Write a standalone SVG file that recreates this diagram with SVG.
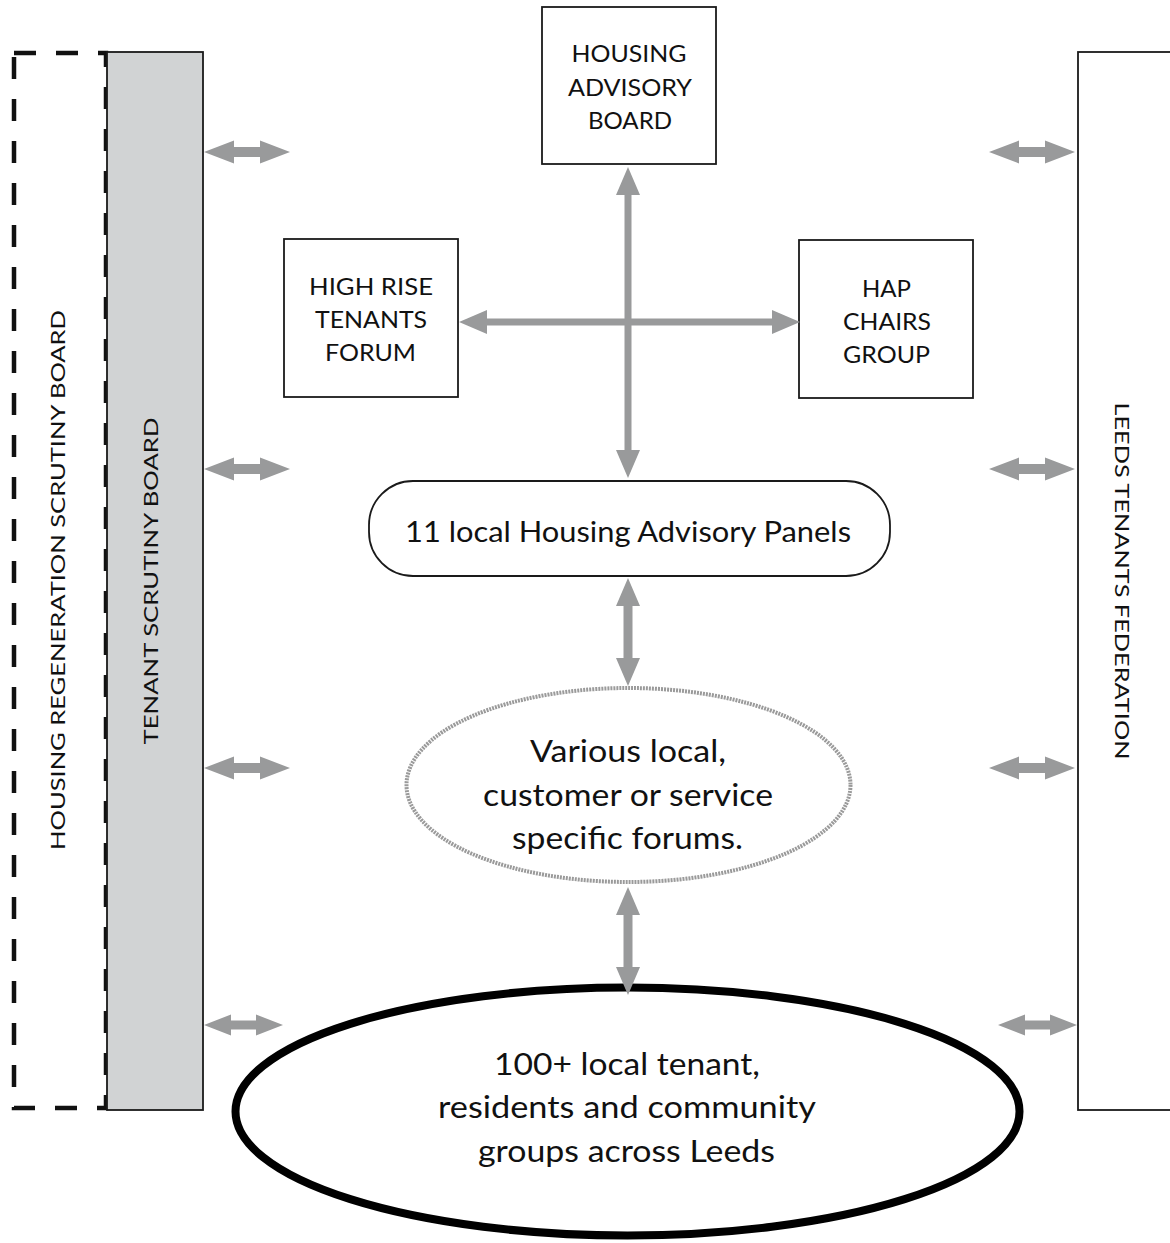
<svg xmlns="http://www.w3.org/2000/svg" width="1170" height="1243" viewBox="0 0 1170 1243">
<style>
.box{fill:#fff;stroke:#1a1a1a;stroke-width:1.8}
.t{font-family:Lato,"Open Sans","Liberation Sans",sans-serif;fill:#111;text-anchor:middle}
.cap{font-size:23px}
.vt{font-size:19px}
.big{font-size:30px}
.arr{fill:#999a9b}
</style>
<defs>
<path id="side" d="M0,0 L30,-11.5 L30,-5 L56,-5 L56,-11.5 L86,0 L56,11.5 L56,5 L30,5 L30,11.5 Z"/>
<path id="sideS" d="M0,0 L27,-10.5 L27,-4.5 L52,-4.5 L52,-10.5 L79,0 L52,10.5 L52,4.5 L27,4.5 L27,10.5 Z"/>
<path id="vshort" d="M0,0 L12,28 L4.5,28 L4.5,80 L12,80 L0,108 L-12,80 L-4.5,80 L-4.5,28 L-12,28 Z"/>
</defs>
<rect width="1170" height="1243" fill="#fff"/>

<g id="housing-regeneration-scrutiny-board">
<rect x="14" y="53" width="92" height="1055" fill="none" stroke="#111" stroke-width="4.5" stroke-dasharray="22 20"/>
<text class="t vt" transform="translate(65,580) rotate(-90)" textLength="540" lengthAdjust="spacingAndGlyphs">HOUSING REGENERATION SCRUTINY BOARD</text>
</g>

<g id="tenant-scrutiny-board">
<rect x="107" y="52" width="96" height="1058" fill="#d1d3d4" stroke="#1a1a1a" stroke-width="1.8"/>
<text class="t vt" transform="translate(158,581) rotate(-90)" textLength="327" lengthAdjust="spacingAndGlyphs">TENANT SCRUTINY BOARD</text>
</g>

<g id="leeds-tenants-federation">
<rect x="1078" y="52" width="120" height="1058" fill="#fff" stroke="#1a1a1a" stroke-width="1.8"/>
<text class="t vt" transform="translate(1115,581) rotate(90)" textLength="357" lengthAdjust="spacingAndGlyphs">LEEDS TENANTS FEDERATION</text>
</g>

<g id="housing-advisory-board">
<rect class="box" x="542" y="7" width="174" height="157"/>
<text class="t cap" x="629" y="62" textLength="115" lengthAdjust="spacingAndGlyphs">HOUSING</text>
<text class="t cap" x="630" y="96" textLength="124" lengthAdjust="spacingAndGlyphs">ADVISORY</text>
<text class="t cap" x="630" y="129" textLength="84" lengthAdjust="spacingAndGlyphs">BOARD</text>
</g>

<g id="high-rise-tenants-forum">
<rect class="box" x="284" y="239" width="174" height="158"/>
<text class="t cap" x="371" y="295" textLength="124" lengthAdjust="spacingAndGlyphs">HIGH RISE</text>
<text class="t cap" x="371" y="328" textLength="112" lengthAdjust="spacingAndGlyphs">TENANTS</text>
<text class="t cap" x="370.5" y="361" textLength="91" lengthAdjust="spacingAndGlyphs">FORUM</text>
</g>

<g id="hap-chairs-group">
<rect class="box" x="799" y="240" width="174" height="158"/>
<text class="t cap" x="886.5" y="297" textLength="49" lengthAdjust="spacingAndGlyphs">HAP</text>
<text class="t cap" x="887" y="330" textLength="88" lengthAdjust="spacingAndGlyphs">CHAIRS</text>
<text class="t cap" x="886.5" y="363" textLength="87" lengthAdjust="spacingAndGlyphs">GROUP</text>
</g>

<g id="local-housing-advisory-panels">
<rect class="box" x="369" y="481" width="521" height="95" rx="44" ry="44"/>
<text class="t" style="font-size:29px" x="628" y="542" textLength="446" lengthAdjust="spacingAndGlyphs">11 local Housing Advisory Panels</text>
</g>

<g id="various-forums">
<ellipse cx="628.5" cy="785" rx="222" ry="97" fill="#fff" stroke="#9a9a9a" stroke-width="4" stroke-dasharray="2 1"/>
<text class="t big" x="628" y="762" textLength="196" lengthAdjust="spacingAndGlyphs">Various local,</text>
<text class="t big" x="628" y="806" textLength="290" lengthAdjust="spacingAndGlyphs">customer or service</text>
<text class="t big" x="627.5" y="849" textLength="231" lengthAdjust="spacingAndGlyphs">specific forums.</text>
</g>

<g id="local-groups">
<ellipse cx="627.5" cy="1111.5" rx="392" ry="124" fill="#fff" stroke="#000" stroke-width="8"/>
<text class="t big" x="627" y="1075" textLength="266" lengthAdjust="spacingAndGlyphs">100+ local tenant,</text>
<text class="t big" x="627" y="1118" textLength="378" lengthAdjust="spacingAndGlyphs">residents and community</text>
<text class="t big" x="626.5" y="1162" textLength="297" lengthAdjust="spacingAndGlyphs">groups across Leeds</text>
</g>

<g id="connectors" class="arr">
<path d="M628,167 L640,195 L631.5,195 L631.5,450 L640,450 L628,478 L616,450 L624.5,450 L624.5,195 L616,195 Z"/>
<path d="M459,322 L487,310 L487,318.5 L772,318.5 L772,310 L800,322 L772,334 L772,325.5 L487,325.5 L487,334 Z"/>
<use href="#vshort" transform="translate(628,578)"/>
<use href="#vshort" transform="translate(628,887)"/>
<use href="#side" transform="translate(204,152)"/>
<use href="#side" transform="translate(204,469)"/>
<use href="#side" transform="translate(204,768)"/>
<use href="#sideS" transform="translate(204,1025)"/>
<use href="#side" transform="translate(989,152)"/>
<use href="#side" transform="translate(989,469)"/>
<use href="#side" transform="translate(989,768)"/>
<use href="#sideS" transform="translate(998,1025)"/>
</g>
</svg>
